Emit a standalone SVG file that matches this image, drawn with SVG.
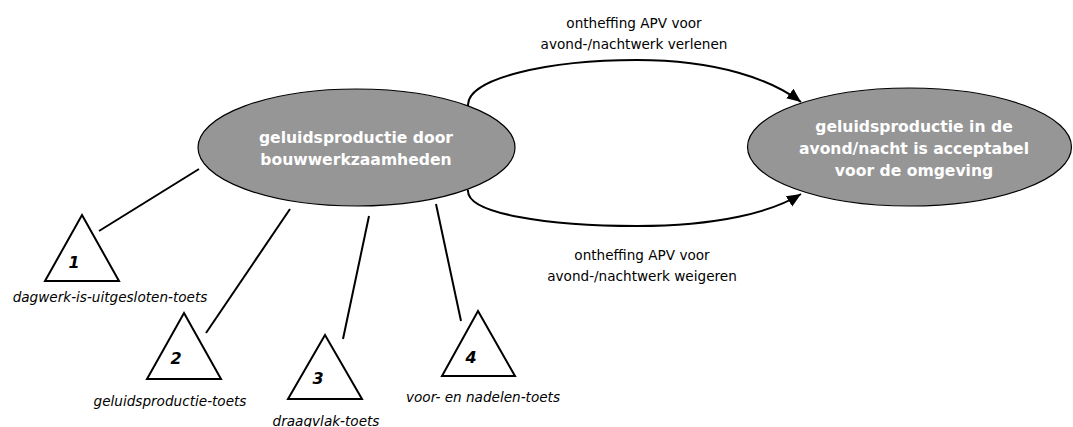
<svg xmlns="http://www.w3.org/2000/svg" width="1073" height="427" viewBox="0 0 1073 427">
<style>
.ell{fill:#969696;stroke:#000;stroke-width:1.2}
.etxt{font-family:"DejaVu Sans","Liberation Sans",sans-serif;font-weight:bold;font-size:15.6px;fill:#fff;text-anchor:middle}
.lbl{font-family:"DejaVu Sans","Liberation Sans",sans-serif;font-size:13.6px;fill:#000;text-anchor:middle}
.ital{font-family:"DejaVu Sans","Liberation Sans",sans-serif;font-style:italic;font-size:13.6px;fill:#000;text-anchor:middle}
.num{font-family:"DejaVu Sans","Liberation Sans",sans-serif;font-style:italic;font-weight:bold;font-size:16px;fill:#000;text-anchor:middle}
.tri{fill:#fff;stroke:#000;stroke-width:2;stroke-linejoin:miter}
.con{fill:none;stroke:#000;stroke-width:2}
</style>
<defs>
<marker id="arr" markerUnits="userSpaceOnUse" markerWidth="16" markerHeight="14" refX="14" refY="6" orient="auto">
<path d="M0,0 L14,6 L0,12 Z" fill="#000"/>
</marker>
</defs>
<rect width="1073" height="427" fill="#fff"/>
<g id="connectors">
<path class="con" d="M468,106 C466,78 550,60 637,60 C718,60 772,80 801,102" marker-end="url(#arr)"/>
<path class="con" d="M468,190 C466,214 550,226 637,226 C718,226 772,212 801,194" marker-end="url(#arr)"/>
<line class="con" x1="199" y1="169" x2="99" y2="231"/>
<line class="con" x1="290" y1="209" x2="206" y2="333"/>
<line class="con" x1="369" y1="216" x2="343" y2="339"/>
<line class="con" x1="436" y1="204" x2="461" y2="321"/>
</g>
<g id="node-bron">
<ellipse class="ell" cx="356.5" cy="147.5" rx="158.5" ry="58.5"/>
<text class="etxt" x="356" y="143">geluidsproductie door</text>
<text class="etxt" x="356" y="165">bouwwerkzaamheden</text>
</g>
<g id="node-doel">
<ellipse class="ell" cx="909.5" cy="147" rx="162" ry="59"/>
<text class="etxt" x="914" y="132">geluidsproductie in de</text>
<text class="etxt" x="914" y="154">avond/nacht is acceptabel</text>
<text class="etxt" x="914" y="176">voor de omgeving</text>
</g>
<g id="label-verlenen">
<text class="lbl" x="634" y="28">ontheffing APV voor</text>
<text class="lbl" x="634" y="49">avond-/nachtwerk verlenen</text>
</g>
<g id="label-weigeren">
<text class="lbl" x="642" y="260">ontheffing APV voor</text>
<text class="lbl" x="642" y="281">avond-/nachtwerk weigeren</text>
</g>
<g id="toets-1">
<polygon class="tri" points="82,215 119,281 45,281"/>
<text class="num" x="74" y="268">1</text>
<text class="ital" x="110" y="302">dagwerk-is-uitgesloten-toets</text>
</g>
<g id="toets-2">
<polygon class="tri" points="184,313 221,379 147,379"/>
<text class="num" x="176" y="364">2</text>
<text class="ital" x="170" y="406">geluidsproductie-toets</text>
</g>
<g id="toets-3">
<polygon class="tri" points="325,335 362,399 288,399"/>
<text class="num" x="318" y="384">3</text>
<text class="ital" x="326" y="426">draagvlak-toets</text>
</g>
<g id="toets-4">
<polygon class="tri" points="478,311 515,376 442,376"/>
<text class="num" x="471" y="363">4</text>
<text class="ital" x="483" y="402">voor- en nadelen-toets</text>
</g>
</svg>
